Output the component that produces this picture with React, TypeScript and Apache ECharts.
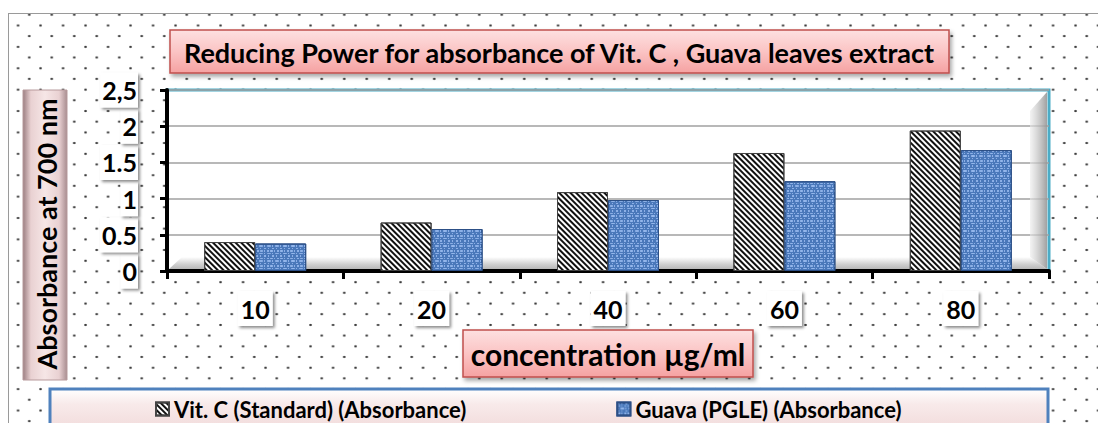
import React, { useEffect, useRef } from "react";
import * as echarts from "echarts";

const categories = ["10", "20", "40", "60", "80"];
const vitC = [0.4, 0.67, 1.09, 1.63, 1.94];
const guava = [0.38, 0.58, 0.98, 1.24, 1.67];
const yTickLabels = ["0", "0.5", "1", "1.5", "2", "2,5"];
const seriesNames = ["Vit. C (Standard) (Absorbance)", "Guava (PGLE) (Absorbance)"];
const titleText = "Reducing Power for absorbance of Vit. C , Guava leaves extract";
const xTitle = "concentration µg/ml";
const yTitle = "Absorbance at 700 nm";

const FONT = "Lato";

const lin = (x: number, y: number, x2: number, y2: number, stops: [number, string][]) => ({
  type: "linear",
  x,
  y,
  x2,
  y2,
  colorStops: stops.map(([offset, color]) => ({ offset, color })),
});

export default function App() {
  const ref = useRef<HTMLDivElement>(null);
  useEffect(() => {
    const chart = echarts.init(ref.current!, null, { renderer: "svg" });
    const option: any = {
      animation: false,
      backgroundColor: "transparent",
      grid: {
        left: 167,
        top: 90,
        width: 882,
        height: 181,
        show: true,
        backgroundColor: "#ffffff",
        borderColor: "#4BACC6",
        borderWidth: 3,
      },
      legend: {
        data: seriesNames,
        left: 150,
        top: 393,
        itemWidth: 13,
        itemHeight: 13,
        itemGap: 150,
        icon: "rect",
        textStyle: { fontFamily: FONT, fontWeight: "bold", fontSize: 22, color: "#000" },
      },
      xAxis: {
        type: "category",
        data: categories,
        axisLine: { lineStyle: { color: "#000", width: 4 } },
        axisTick: { show: true, length: 8, lineStyle: { color: "#000", width: 3 } },
        axisLabel: {
          margin: 20,
          fontFamily: FONT,
          fontWeight: "bold",
          fontSize: 25,
          color: "#000",
          backgroundColor: "#fff",
          padding: [5, 3, 5, 3],
          shadowColor: "rgba(0,0,0,0.45)",
          shadowBlur: 3,
          shadowOffsetX: 2,
          shadowOffsetY: 2,
        },
        splitLine: { show: false },
      },
      yAxis: {
        type: "value",
        min: 0,
        max: 2.5,
        interval: 0.5,
        axisLine: { show: true, lineStyle: { color: "#000", width: 4 } },
        axisTick: { show: true, length: 7, lineStyle: { color: "#000", width: 3 } },
        axisLabel: {
          margin: 29,
          fontFamily: FONT,
          fontWeight: "bold",
          fontSize: 25,
          color: "#000",
          backgroundColor: "#fff",
          padding: [5, 1, 5, 2],
          shadowColor: "rgba(0,0,0,0.45)",
          shadowBlur: 3,
          shadowOffsetX: 2,
          shadowOffsetY: 2,
          formatter: (_v: number, i: number) => yTickLabels[i],
        },
        splitLine: { lineStyle: { color: "#a0a0a0", width: 1.5 } },
      },
      series: [
        {
          name: seriesNames[0],
          type: "bar",
          data: vitC,
          barWidth: 51,
          barGap: "0%",
          z: 3,
          itemStyle: {
            color: "#ffffff",
            borderColor: "#444",
            borderWidth: 1,
            decal: {
              symbol: "rect",
              symbolSize: 1,
              dashArrayX: [[1, 0]],
              dashArrayY: [2, 2],
              rotation: Math.PI / 4,
              color: "#111",
            },
          },
        },
        {
          name: seriesNames[1],
          type: "bar",
          data: guava,
          barWidth: 51,
          barGap: "0%",
          z: 3,
          itemStyle: {
            color: "#4a78ba",
            borderColor: "#2c4f86",
            borderWidth: 1,
            decal: {
              symbol: "rect",
              symbolSize: 0.9,
              dashArrayX: [
                [3, 1, 1, 2, 2, 1],
                [1, 2, 4, 1],
                [2, 2, 1, 3],
              ],
              dashArrayY: [2, 1, 1, 1],
              color: "rgba(165,198,248,0.8)",
            },
          },
        },
      ],
      graphic: [
        {
          type: "polygon",
          z: 1,
          silent: true,
          shape: { points: [[169, 269], [182, 257], [1030, 257], [1047, 269]] },
          style: { fill: lin(0, 0, 0, 1, [[0, "#ffffff"], [0.6, "#d0d0d0"], [1, "#b8b8b8"]]) },
        },
        {
          type: "polygon",
          z: 1,
          silent: true,
          shape: { points: [[1030, 111], [1047, 92], [1047, 269], [1030, 257]] },
          style: { fill: lin(0, 0, 1, 0, [[0, "rgba(235,235,235,0.6)"], [1, "rgba(150,150,150,0.9)"]]) },
        },
        {
          type: "rect",
          z: 5,
          shape: { x: 170, y: 30, width: 779, height: 43 },
          style: {
            fill: lin(0, 0, 0, 1, [[0, "#fde0e0"], [0.5, "#fbc4c4"], [1, "#f5a2a2"]]),
            stroke: "#c0504d",
            lineWidth: 1.5,
            shadowBlur: 4,
            shadowOffsetX: 2,
            shadowOffsetY: 3,
            shadowColor: "rgba(0,0,0,0.35)",
          },
        },
        {
          type: "text",
          z: 6,
          x: 559,
          y: 52,
          style: {
            text: titleText,
            align: "center",
            verticalAlign: "middle",
            font: `bold 27px ${FONT}`,
            fill: "#000",
          },
        },
        {
          type: "rect",
          z: 5,
          shape: { x: 463, y: 330, width: 290, height: 47 },
          style: {
            fill: lin(0, 0, 0, 1, [[0, "#fde0e0"], [0.5, "#fbc4c4"], [1, "#f5a2a2"]]),
            stroke: "#c0504d",
            lineWidth: 1.5,
            shadowBlur: 4,
            shadowOffsetX: 2,
            shadowOffsetY: 3,
            shadowColor: "rgba(0,0,0,0.35)",
          },
        },
        {
          type: "text",
          z: 6,
          x: 608,
          y: 354,
          style: {
            text: xTitle,
            align: "center",
            verticalAlign: "middle",
            font: `bold 30px ${FONT}`,
            fill: "#000",
          },
        },
        {
          type: "rect",
          z: 5,
          shape: { x: 23, y: 90, width: 44, height: 290 },
          style: {
            fill: lin(0, 0, 1, 0, [
              [0, "#9c7f82"],
              [0.18, "#e9d1d2"],
              [0.5, "#f6e6e6"],
              [0.82, "#e9d1d2"],
              [1, "#a88d90"],
            ]),
            stroke: "#b79a9c",
            lineWidth: 1,
          },
        },
        {
          type: "text",
          z: 6,
          x: 46,
          y: 234,
          rotation: Math.PI / 2,
          style: {
            text: yTitle,
            align: "center",
            verticalAlign: "middle",
            font: `bold 27px ${FONT}`,
            fill: "#000",
          },
        },
        {
          type: "rect",
          z: 1,
          shape: { x: 50, y: 389, width: 998, height: 50 },
          style: {
            fill: lin(0, 0, 0, 1, [[0, "#ffffff"], [0.3, "#f8eaea"], [1, "#efd6d6"]]),
            stroke: "#4f81bd",
            lineWidth: 3,
          },
        },
      ],
    };
    chart.setOption(option);
    return () => chart.dispose();
  }, []);

  const dot = "radial-gradient(circle, #3a3a3a 0.9px, rgba(0,0,0,0) 1.5px)";
  return (
    <div style={{ position: "absolute", left: 0, top: 0, width: 1098, height: 423, overflow: "hidden", background: "#fff" }}>
      <div
        style={{
          position: "absolute",
          left: 8,
          top: 13,
          width: 1200,
          height: 500,
          border: "1.5px solid #9a9a9a",
          backgroundImage: `${dot}, ${dot}`,
          backgroundSize: "22.5px 21.4px",
          backgroundPosition: "9px -10px, -2.2px 0.8px",
        }}
      />
      <div ref={ref} style={{ position: "absolute", left: 0, top: 0, width: 1098, height: 423 }} />
    </div>
  );
}
